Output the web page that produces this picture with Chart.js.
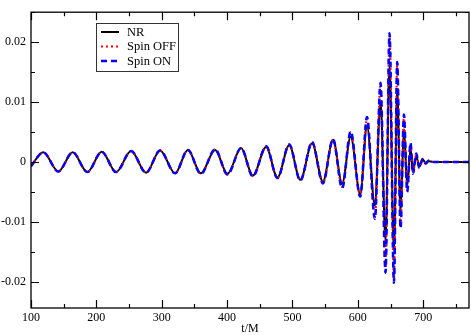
<!DOCTYPE html>
<html>
<head>
<meta charset="utf-8">
<script src="https://cdn.jsdelivr.net/npm/chart.js@4/dist/chart.umd.min.js"></script>
<style>
  html, body { margin: 0; padding: 0; background: #fff; }
  #wrap { width: 471px; height: 335px; }
</style>
</head>
<body>
<div id="wrap"><canvas id="chart" width="471" height="335"></canvas></div>
<script>
// ─────────────────────────────────────────────────
// Waveform data (extrema)
// ─────────────────────────────────────────────────
const times = [100, 118.8, 141.8, 163.8, 186.2, 208.2, 230.1, 253.1, 276, 297.5,
    320.4, 340, 359.8, 381.6, 400.5, 421.4, 439.3, 459.7, 477, 495,
    512, 530, 546.5, 562, 576, 589, 603.6, 614, 626, 634.7,
    642.3, 648.4, 655.2, 660.2, 665.3, 670.5, 675.5, 680.6, 684.2, 689.3,
    694, 699, 704, 708, 715, 770];

const nr = [-0.0007, 0.0016, -0.0016, 0.0016, -0.0017, 0.0017, -0.0017, 0.0018, -0.0018, 0.0019,
    -0.0019, 0.0020, -0.0019, 0.0020, -0.0020, 0.0023, -0.0023, 0.0025, -0.0026, 0.0028,
    -0.0030, 0.0031, -0.0033, 0.0037, -0.0036, 0.0042, -0.0054, 0.0060, -0.0073, 0.0100,
    -0.0131, 0.0160, -0.0147, 0.0121, -0.0083, 0.0055, -0.0040, 0.0022, -0.0016, 0.0010,
    -0.0008, 0.0004, -0.0002, 0.0001, 0, 0];

const spinOff = [-0.0007, 0.0016, -0.0016, 0.0016, -0.0017, 0.0017, -0.0017, 0.0018, -0.0018, 0.0019,
    -0.0019, 0.0020, -0.0020, 0.0021, -0.0021, 0.0023, -0.0024, 0.0026, -0.0027, 0.0029,
    -0.0031, 0.0033, -0.0035, 0.0037, -0.0042, 0.0050, -0.0057, 0.0073, -0.0093, 0.0130,
    -0.0182, 0.0212, -0.0198, 0.0165, -0.0109, 0.0077, -0.0049, 0.0031, -0.0019, 0.0013,
    -0.0009, 0.0005, -0.0003, 0.0002, 0, 0];

const spinOn = [-0.0007, 0.0016, -0.0016, 0.0016, -0.0017, 0.0017, -0.0017, 0.0018, -0.0018, 0.0019,
    -0.0019, 0.0020, -0.0020, 0.0021, -0.0021, 0.0023, -0.0024, 0.0026, -0.0027, 0.0029,
    -0.0031, 0.0033, -0.0036, 0.0038, -0.0044, 0.0051, -0.0058, 0.0075, -0.0095, 0.0132,
    -0.0185, 0.0215, -0.0202, 0.0167, -0.0111, 0.0079, -0.0050, 0.0032, -0.0020, 0.0014,
    -0.0010, 0.0005, -0.0003, 0.0002, 0, 0];

const xTicks = [100, 200, 300, 400, 500, 600, 700];
const yTicks = [-0.02, -0.01, 0, 0.01, 0.02];
const legendLabels = ['NR', 'Spin OFF', 'Spin ON'];
const xTitle = 't/M';

const serif = '"Liberation Serif", "DejaVu Serif", serif';
const pts = (ys) => times.map((t, i) => ({ x: t, y: ys[i] }));

// ─────────────────────────────────────────────────
// Frame + inward ticks on all four sides, axis title
// ─────────────────────────────────────────────────
const frameTicks = {
    id: 'frameTicks',
    afterDatasetsDraw(chart) {
        const { ctx, chartArea: a, scales: { x, y } } = chart;
        ctx.save();
        ctx.strokeStyle = '#000'; ctx.lineWidth = 1.3;
        ctx.strokeRect(a.left, a.top, a.right - a.left, a.bottom - a.top);
        ctx.lineWidth = 1.2;
        ctx.beginPath();
        for (let v = 100; v <= 770; v += 50) {
            const px = Math.round(x.getPixelForValue(v)) + 0.5;
            const len = v % 100 === 0 ? 8 : 4;
            ctx.moveTo(px, a.bottom); ctx.lineTo(px, a.bottom - len);
            ctx.moveTo(px, a.top); ctx.lineTo(px, a.top + len);
        }
        for (let k = -4; k <= 5; k++) {
            const v = k * 0.005;
            const py = Math.round(y.getPixelForValue(v)) + 0.5;
            const len = k % 2 === 0 ? 8 : 4;
            ctx.moveTo(a.left, py); ctx.lineTo(a.left + len, py);
            ctx.moveTo(a.right, py); ctx.lineTo(a.right - len, py);
        }
        ctx.stroke();
        // x axis title
        ctx.fillStyle = '#000'; ctx.font = '12px ' + serif;
        ctx.textAlign = 'center'; ctx.textBaseline = 'middle';
        ctx.fillText(xTitle, (a.left + a.right) / 2, 328.5);
        ctx.restore();
    }
};

// ─────────────────────────────────────────────────
// Boxed legend in the upper left
// ─────────────────────────────────────────────────
const boxLegend = {
    id: 'boxLegend',
    afterDraw(chart) {
        const ctx = chart.ctx;
        const bx = 96.5, by = 23.5, bw = 82, bh = 48;
        ctx.save();
        ctx.fillStyle = '#fff'; ctx.fillRect(bx, by, bw, bh);
        ctx.strokeStyle = '#333'; ctx.lineWidth = 1; ctx.strokeRect(bx, by, bw, bh);
        const styles = [
            { c: '#000', d: [], w: 2 },
            { c: '#ff0000', d: [2, 3], w: 2 },
            { c: '#0000ff', d: [6, 4], w: 2.5 }
        ];
        const rows = [32, 46.5, 61];
        ctx.font = '12.5px ' + serif;
        ctx.textBaseline = 'middle'; ctx.textAlign = 'left';
        legendLabels.forEach((lab, i) => {
            const s = styles[i];
            ctx.beginPath();
            ctx.setLineDash(s.d); ctx.strokeStyle = s.c; ctx.lineWidth = s.w;
            ctx.moveTo(101, rows[i]); ctx.lineTo(119, rows[i]); ctx.stroke();
            ctx.setLineDash([]);
            ctx.fillStyle = '#000';
            ctx.fillText(lab, 127, rows[i] + 0.5);
        });
        ctx.restore();
    }
};

new Chart(document.getElementById('chart'), {
    type: 'line',
    data: {
        datasets: [
            { label: 'Spin ON', data: pts(spinOn), borderColor: '#0000ff', borderWidth: 2.5,
              borderDash: [6, 4], order: 0 },
            { label: 'Spin OFF', data: pts(spinOff), borderColor: '#ff0000', borderWidth: 2,
              borderDash: [2, 3], order: 1 },
            { label: 'NR', data: pts(nr), borderColor: '#000', borderWidth: 2, order: 2 }
        ]
    },
    options: {
        responsive: false, animation: false, devicePixelRatio: 1,
        layout: { padding: { top: 2, right: 2, left: 0, bottom: 0 } },
        elements: {
            line: { cubicInterpolationMode: 'monotone', fill: false },
            point: { radius: 0 }
        },
        plugins: { legend: { display: false }, tooltip: { enabled: false } },
        scales: {
            x: {
                type: 'linear', min: 100, max: 770,
                afterBuildTicks: (s) => { s.ticks = xTicks.map(v => ({ value: v })); },
                afterFit: (s) => { s.height = 27; },
                grid: { display: false, drawTicks: false }, border: { display: false },
                ticks: { color: '#000', padding: 3, maxRotation: 0, font: { size: 12, family: serif } }
            },
            y: {
                type: 'linear', min: -0.0244, max: 0.025,
                afterBuildTicks: (s) => { s.ticks = yTicks.map(v => ({ value: v })); },
                afterFit: (s) => { s.width = 31; },
                grid: { display: false, drawTicks: false }, border: { display: false },
                ticks: { color: '#000', padding: 5, font: { size: 12, family: serif },
                         callback: (v) => v === 0 ? '0' : String(+v.toFixed(2)) }
            }
        }
    },
    plugins: [frameTicks, boxLegend]
});
</script>
</body>
</html>
